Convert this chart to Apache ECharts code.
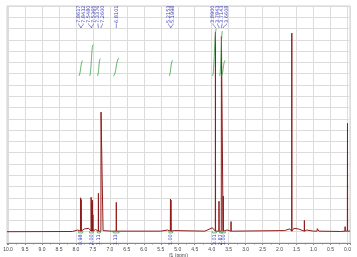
<!DOCTYPE html>
<html><head><meta charset="utf-8">
<script src="https://cdn.jsdelivr.net/npm/echarts@6/dist/echarts.min.js"></script>
<style>html,body{margin:0;padding:0;background:#fff}#c{width:357px;height:257px}</style>
</head><body><div id="c"></div>
<script>
// ---- data (intensity in grid-line units, baseline = 0) ----
const peakPpm    = [7.862, 7.845, 7.552, 7.535, 7.515, 7.500, 7.337, 7.260, 6.810, 5.215, 5.200, 3.890, 3.785, 3.714, 3.660, 3.430, 1.640, 1.270, 0.890, 0.070, 0.000];
const peakHeight = [3.0,   2.85,  3.05,  2.6,   2.8,   1.5,   3.4,   10.6,  2.6,   2.9,   2.8,   17.7,  2.7,   17.3,  3.16,  0.9,   17.6,  1.0,   0.27,  0.45,  9.6];
const basePpm    = [10.03, 8.10, 7.95, 7.75, 7.62, 7.42, 7.20, 6.95, 6.70, 5.50, 5.30, 5.10, 4.20, 3.98, 3.55, 3.35, 1.85, 1.70, 1.58, 1.45, 1.33, 1.20, 1.00, 0.94, 0.84, 0.20, 0.10, 0.03, -0.074];
const baseValue  = [0.0,  0.02, 0.15, 0.25, 0.30, 0.20, 0.10, 0.05, 0.05, 0.05, 0.15, 0.10, 0.05, 0.35, 0.15, 0.05, 0.10, 0.25, 0.30, 0.25, 0.20, 0.15, 0.05, 0.12, 0.05, 0.02, 0.05, 0.10, 0.05];
const labelPpm   = [7.8617, 7.8432, 7.5480, 7.5365, 7.3376, 7.2600, 6.8101, 5.2153, 5.1998, 3.8900, 3.7843, 3.7143, 3.6608];
const labelText  = ['7.8617','7.8432','7.5480','7.5365','7.3376','7.2600','6.8101','5.2153','5.1998','3.8900','3.7843','3.7143','3.6608'];
const intFrom    = [7.92, 7.60, 7.37, 6.90, 5.26, 3.98, 3.77, 3.72];
const intTo      = [7.80, 7.49, 7.28, 6.73, 5.15, 3.86, 3.68, 3.60];
const intValue   = [0.98, 2.00, 1.11, 1.13, 1.00, 3.01, 2.87, 1.00];
const intLabel   = ['0.98','2.00','1.11','1.13','1.00','3.01','2.87','1.00'];

// ---- build spectrum polyline from peaks + baseline vertices ----
const pts = [];
basePpm.forEach((p, i) => pts.push([p, baseValue[i]]));
peakPpm.forEach((p, i) => { pts.push([p + 0.004, 0.05]); pts.push([p, peakHeight[i]]); pts.push([p - 0.004, 0.05]); });
pts.sort((a, b) => a[0] - b[0]);

const BLUE = '#3a3ab4', GREEN = '#3fa34d', RED = '#8e1b1b';

function spread(xs, gap) {
  const idx = xs.map((x, i) => i).sort((a, b) => xs[a] - xs[b]);
  let cl = idx.map(i => ({ m: [i], c: xs[i] }));
  let changed = true;
  while (changed) {
    changed = false;
    for (let k = 0; k < cl.length - 1; k++) {
      const a = cl[k], b = cl[k + 1];
      const aEnd = a.c + (a.m.length - 1) * gap / 2, bStart = b.c - (b.m.length - 1) * gap / 2;
      if (bStart - aEnd < gap) {
        const m = a.m.concat(b.m);
        const c = m.reduce((s, i) => s + xs[i], 0) / m.length;
        cl.splice(k, 2, { m, c }); changed = true; break;
      }
    }
  }
  const out = [];
  cl.forEach(c => c.m.forEach((i, j) => { out[i] = c.c + (j - (c.m.length - 1) / 2) * gap; }));
  return out;
}

const chart = echarts.init(document.getElementById('c'), null, { renderer: 'canvas' });
chart.setOption({
  animation: false,
  grid: { left: 7, right: 7, top: 6, bottom: 14, outerBoundsMode: 'none', containLabel: false, show: true, borderColor: '#cfcfcf', borderWidth: 1 },
  xAxis: {
    type: 'value', inverse: true, min: -0.074, max: 10.03, splitNumber: 20,
    axisLine: { show: true, onZero: false, lineStyle: { color: '#888', width: 1 } },
    axisTick: { show: true, length: 2, lineStyle: { color: '#888' } },
    minorTick: { show: true, splitNumber: 2, length: 1.5, lineStyle: { color: '#888' } },
    splitLine: { show: true, lineStyle: { color: '#dcdcdc', width: 1 } },
    axisLabel: { fontSize: 5, color: '#444', margin: 4, showMinLabel: false, showMaxLabel: false,
                 formatter: v => (Math.abs(v * 2 - Math.round(v * 2)) < 1e-6 ? v.toFixed(1) : '') },
    name: 'f1 (ppm)', nameLocation: 'middle', nameGap: 10.5, nameMoveOverlap: false,
    nameTextStyle: { fontSize: 5, color: '#444' }
  },
  yAxis: {
    type: 'value', min: -1, max: 20, interval: 1,
    axisLine: { show: false }, axisTick: { show: false }, axisLabel: { show: false },
    splitLine: { show: true, lineStyle: { color: '#dcdcdc', width: 1 } }
  },
  series: [
    { type: 'line', data: pts, showSymbol: false, symbol: 'none', lineStyle: { color: RED, width: 1 }, z: 3, clip: true },
    { // integral curves + bottom labels
      type: 'custom', z: 4, data: intValue.map((v, i) => [intFrom[i], 0, i]),
      renderItem(params, api) {
        const i = params.dataIndex;
        const x1 = api.coord([intFrom[i], 0])[0], x2 = api.coord([intTo[i], 0])[0];
        const yb = api.coord([0, 13.8])[1], yt = api.coord([0, 13.8 + intValue[i] * 1.39])[1];
        const y0 = api.coord([0, 0])[1];
        const xc = (x1 + x2) / 2;
        return { type: 'group', children: [
          { type: 'bezierCurve', shape: { x1: x1, y1: yb, cpx1: xc, cpy1: yb, cpx2: xc, cpy2: yt, x2: x2, y2: yt }, style: { stroke: GREEN, lineWidth: 0.8, fill: null } },
          { type: 'polyline', shape: { points: [[x1, y0 - 0.5], [x1, y0 + 1.2], [x2, y0 + 1.2], [x2, y0 - 0.5]] }, style: { stroke: GREEN, lineWidth: 0.8, fill: null } },
          { type: 'text', x: xc, y: y0 + 2.5, rotation: Math.PI / 2, style: { text: intLabel[i], fill: BLUE, font: '5px "DejaVu Sans", sans-serif', align: 'right', verticalAlign: 'middle' } }
        ] };
      }
    },
    { // peak picking labels
      type: 'custom', z: 5, data: labelPpm.map((p, i) => [p, 0, i]),
      renderItem(params, api) {
        const i = params.dataIndex;
        const xs = labelPpm.map(p => api.coord([p, 0])[0]);
        const d = spread(xs, 4.6);
        const top = api.coord([0, 20])[1];
        const x0 = xs[i], xd = d[i];
        return { type: 'group', children: [
          { type: 'text', x: xd, y: top + 17, rotation: Math.PI / 2, style: { text: labelText[i], fill: BLUE, font: '5px "DejaVu Sans", sans-serif', align: 'left', verticalAlign: 'middle' } },
          { type: 'polyline', shape: { points: [[xd, top + 17.5], [xd, top + 18.5], [x0, top + 21], [x0, top + 22]] }, style: { stroke: BLUE, lineWidth: 0.6, fill: null } }
        ] };
      }
    }
  ]
});
</script></body></html>
